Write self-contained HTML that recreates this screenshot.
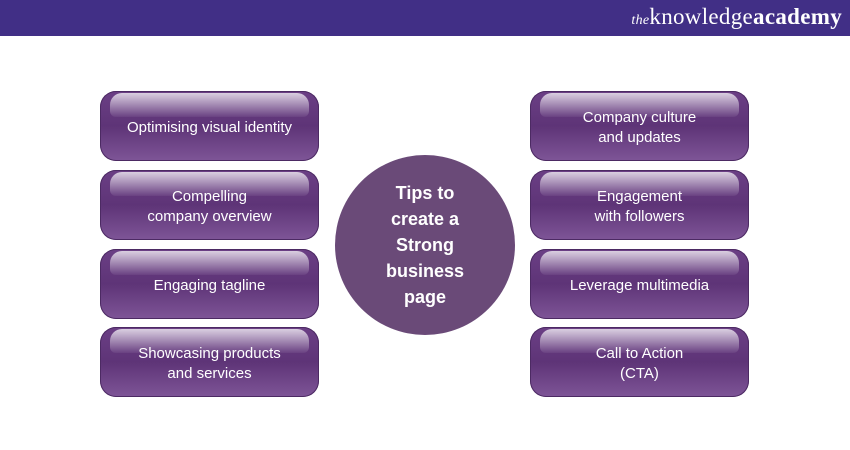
<!DOCTYPE html>
<html><head><style>
body{margin:0;width:850px;height:450px;background:#fff;position:relative;overflow:hidden;font-family:"Liberation Sans",sans-serif}
.hdr{position:absolute;left:0;top:0;width:850px;height:36px;background:#412f86}
.logo{position:absolute;right:8px;top:4px;color:#fff;font-family:"Liberation Serif",serif;font-size:23px;letter-spacing:0.3px}
.logo i{font-size:14px}
.b{position:absolute;width:219px;height:70px;border-radius:16px;background:linear-gradient(#6b3f85 0%,#5e3477 50%,#7e5597 100%);box-shadow:inset 0 0 0 1px #4c2a63;color:#fff;font-size:15px;display:flex;align-items:center;justify-content:center;text-align:center;line-height:20px;overflow:hidden}
.b::before{content:"";position:absolute;left:10px;right:10px;top:2px;height:24px;border-radius:12px 12px 6px 6px;background:linear-gradient(rgba(255,255,255,0.75),rgba(255,255,255,0.05))}
.b span{position:relative;top:2px}
.c{position:absolute;left:335px;top:155px;width:180px;height:180px;border-radius:50%;background:#6a4a78;color:#fff;font-weight:bold;font-size:18px;line-height:26px;display:flex;align-items:center;justify-content:center;text-align:center}
</style></head><body>
<div class="hdr"><div class="logo"><i>the</i>knowledge<span style="font-weight:bold">academy</span></div></div>
<div class="b" style="left:100px;top:91px"><span>Optimising visual identity</span></div>
<div class="b" style="left:100px;top:170px"><span>Compelling<br>company overview</span></div>
<div class="b" style="left:100px;top:249px"><span>Engaging tagline</span></div>
<div class="b" style="left:100px;top:327px"><span>Showcasing products<br>and services</span></div>
<div class="b" style="left:530px;top:91px"><span>Company culture<br>and updates</span></div>
<div class="b" style="left:530px;top:170px"><span>Engagement<br>with followers</span></div>
<div class="b" style="left:530px;top:249px"><span>Leverage multimedia</span></div>
<div class="b" style="left:530px;top:327px"><span>Call to Action<br>(CTA)</span></div>
<div class="c">Tips to<br>create a<br>Strong<br>business<br>page</div>
</body></html>
